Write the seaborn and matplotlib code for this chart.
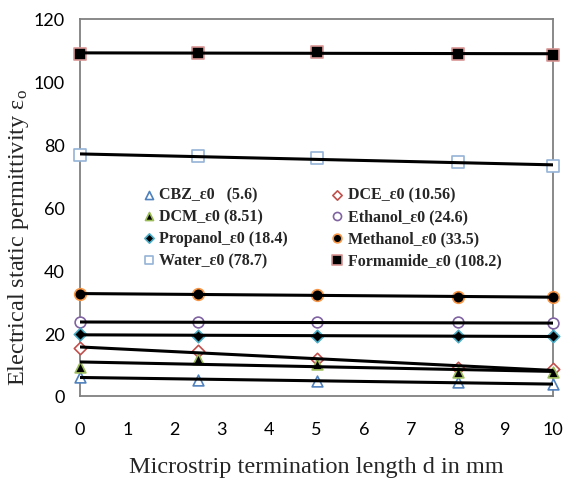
import matplotlib
matplotlib.use("Agg")
import matplotlib.pyplot as plt
import seaborn as sns
import pandas as pd
from matplotlib.font_manager import FontProperties

sns.set_style("white")
plt.rcParams['font.family'] = ['Lato', 'DejaVu Sans']
plt.rcParams['mathtext.fontset'] = 'stix'

# Data
lengths = [0, 2.5, 5, 8, 10]
cbz = [6.1, 5.1, 4.8, 4.3, 3.8]
dce = [15.3, 14.4, 11.8, 8.9, 8.6]
dcm = [9.3, 11.8, 10.2, 7.5, 7.7]
ethanol = [23.5, 23.5, 23.4, 23.4, 23.1]
propanol = [19.8, 19.0, 19.0, 19.2, 19.0]
methanol = [32.4, 32.6, 32.1, 31.5, 31.5]
water = [76.8, 76.3, 75.6, 74.4, 73.3]
formamide = [109.0, 109.1, 109.6, 109.0, 108.7]

labels = ["CBZ_ε0   (5.6)", "DCE_ε0 (10.56)", "DCM_ε0 (8.51)", "Ethanol_ε0 (24.6)",
          "Propanol_ε0 (18.4)", "Methanol_ε0 (33.5)", "Water_ε0 (78.7)", "Formamide_ε0 (108.2)"]
series = [cbz, dce, dcm, ethanol, propanol, methanol, water, formamide]

styles = [
    dict(marker='^', facecolor='white', edgecolor='#4F81BD', s=60),
    dict(marker='D', facecolor='white', edgecolor='#C0504D', s=40),
    dict(marker='^', facecolor='black', edgecolor='#9BBB59', s=60),
    dict(marker='o', facecolor='white', edgecolor='#8064A2', s=60),
    dict(marker='D', facecolor='black', edgecolor='#4BACC6', s=40),
    dict(marker='o', facecolor='black', edgecolor='#F79646', s=70),
    dict(marker='s', facecolor='white', edgecolor='#95B3D7', s=70),
    dict(marker='s', facecolor='black', edgecolor='#D99694', s=75),
]

fig = plt.figure(figsize=(5.64, 4.81), dpi=100)
ax = fig.add_axes([80/564, 1-397/481, 473/564, 377/481])

for lab, ys, st in zip(labels, series, styles):
    df = pd.DataFrame({'d': lengths, 'eps': ys})
    sns.scatterplot(data=df, x='d', y='eps', ax=ax, marker=st['marker'], s=st['s'],
                    color=st['facecolor'], edgecolor=st['edgecolor'], linewidth=1.2,
                    label=lab, zorder=3, clip_on=False)
for ys in series:
    df = pd.DataFrame({'d': lengths, 'eps': ys})
    sns.regplot(data=df, x='d', y='eps', ax=ax, scatter=False, ci=None, truncate=True,
                line_kws=dict(color='black', lw=2.2, zorder=4))

ax.set_xlim(0, 10)
ax.set_ylim(0, 120)
ax.set_xticks(range(0, 11))
ax.set_yticks(range(0, 121, 20))
ax.tick_params(axis='both', direction='out', length=5, width=1, color='#808080',
               labelsize=13, labelcolor='black', pad=6)
ax.tick_params(axis='x', pad=13)
for sp in ax.spines.values():
    sp.set_color('#808080')
    sp.set_linewidth(1.3)

ax.set_xlabel("Microstrip termination length d in mm", fontfamily='Liberation Serif',
              fontsize=17.5)
ax.xaxis.set_label_coords(0.5, -0.16)
ax.set_ylabel(r"Electrical static permittivity ε$_\mathregular{o}$", fontfamily='Liberation Serif',
              fontsize=17.5)
ax.yaxis.set_label_coords(-0.104, 0.423)

handles, labs = ax.get_legend_handles_labels()
order = [0, 2, 4, 6, 1, 3, 5, 7]
leg_font = FontProperties(family='Liberation Serif', weight='bold', size=11.5)
ax.legend([handles[i] for i in order], [labs[i] for i in order],
          ncol=2, frameon=False, loc='upper left', bbox_to_anchor=(0.115, 0.572),
          prop=leg_font, markerscale=0.75, handletextpad=0.15, columnspacing=2.6,
          labelspacing=0.36, handlelength=1.0, borderaxespad=0)

fig.savefig("out.png", dpi=100)
